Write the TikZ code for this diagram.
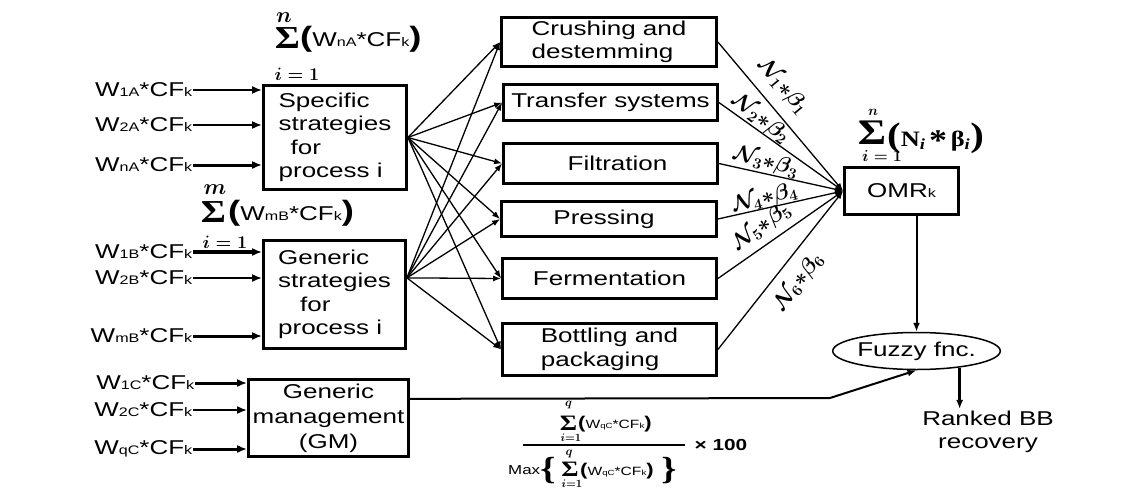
\RequirePackage{fix-cm}
\documentclass[tikz,border=0pt]{standalone}
\usepackage{amsmath,bm}
\usepackage{fontspec}
\setmainfont{Liberation Sans}[FakeStretch=1.3]
\newfontfamily\sr{Liberation Serif}[FakeStretch=1.2]
\usetikzlibrary{arrows.meta,shapes.geometric,calc}
\newcommand\lo[1]{\scalebox{0.62}{#1}}
\newcommand\fsz[2]{\fontsize{#1}{#2}\selectfont}
\newcommand\bp[2]{{\fsz{#1}{#1}\bfseries #2}}
\begin{document}
\begin{tikzpicture}[x=1pt,y=-1pt,
 box/.style={draw, line width=2.8pt, inner sep=0pt, font=\fsz{20}{23.5}},
 inlab/.style={anchor=east, inner sep=0.5pt, font=\fsz{20}{24}},
 inarr/.style={-{Latex[length=10pt,width=8pt]}, line width=2pt},
 thk/.style={line width=3pt},
 fan/.style={-{Latex[length=8pt,width=6pt]}, line width=1.3pt},
 outarr/.style={-{Latex[length=8pt,width=6pt]}, line width=1.3pt},
 nlab/.style={font=\fsz{22}{22}\boldmath, inner sep=0pt},
 sig/.style={inner sep=0pt, font=\sr\bfseries\fsz{32}{32}},
 lim/.style={inner sep=0pt},
 conn/.style={-{Latex[length=9pt,width=7pt]}, line width=2pt},
]
\fill[white] (0,0) rectangle (1142,495);
\useasboundingbox (0,0) rectangle (1142,495);

% strategy boxes
\node[box, minimum width=143pt, minimum height=104pt, align=left] (spec) at (335,137.5) {Specific\\strategies\\\hspace*{12pt}for\\process i};
\node[box, minimum width=142pt, minimum height=108pt, align=left] (gen) at (334.5,294.5) {Generic\\strategies\\\hspace*{22pt}for\\process i};
\node[box, minimum width=160pt, minimum height=77pt, align=center, font=\fsz{20}{25}] (gm) at (328.5,418) {Generic\\management\\(GM)};

% process boxes
\node[box, minimum width=215pt, minimum height=49pt, align=left] (p1) at (609,42) {Crushing and\\destemming};
\node[box, minimum width=214pt, minimum height=36pt] (p2) at (610.5,102.5) {Transfer systems};
\node[box, minimum width=214pt, minimum height=40pt] (p3) at (610.5,163.5) {\hspace*{14pt}Filtration};
\node[box, minimum width=215pt, minimum height=35pt] (p4) at (609,219) {Pressing\hspace*{10pt}};
\node[box, minimum width=214pt, minimum height=40pt] (p5) at (609.5,278.5) {Fermentation};
\node[box, minimum width=214pt, minimum height=52pt, align=left] (p6) at (609.5,349.5) {Bottling and\\packaging};

% right side
\node[box, minimum width=114pt, minimum height=47pt] (omr) at (901.5,191) {OMR\lo{k}};
\node[ellipse, draw, line width=1.5pt, minimum width=146pt, minimum height=37pt, inner sep=0pt, font=\fsz{20}{24}] (fz) at (916.5,351) {Fuzzy fnc.};
\node[align=center, font=\fsz{20}{23}, inner sep=2pt] (rk) at (988,432) {Ranked BB\\recovery};

% input labels
\node[inlab] (w1a) at (193,90) {W\lo{1A}*CF\lo{k}};
\node[inlab] (w2a) at (193,125) {W\lo{2A}*CF\lo{k}};
\node[inlab] (wna) at (193,165) {W\lo{nA}*CF\lo{k}};
\node[inlab] (w1b) at (193,252) {W\lo{1B}*CF\lo{k}};
\node[inlab] (w2b) at (193,278) {W\lo{2B}*CF\lo{k}};
\node[inlab] (wmb) at (193,336) {W\lo{mB}*CF\lo{k}};
\node[inlab] (w1c) at (195,383) {W\lo{1C}*CF\lo{k}};
\node[inlab] (w2c) at (193,410) {W\lo{2C}*CF\lo{k}};
\node[inlab] (wqc) at (193,449) {W\lo{qC}*CF\lo{k}};

\draw[inarr] (w1a.east) -- (w1a.east -| spec.west);
\draw[inarr] (w2a.east) -- (w2a.east -| spec.west);
\draw[inarr,thk] (wna.east) -- (wna.east -| spec.west);
\draw[inarr,line width=3.5pt] (w1b.east) -- (w1b.east -| gen.west);
\draw[inarr] (w2b.east) -- (w2b.east -| gen.west);
\draw[inarr,thk] (wmb.east) -- (wmb.east -| gen.west);
\draw[inarr,thk] (w1c.east) -- (w1c.east -| gm.west);
\draw[inarr] (w2c.east) -- (w2c.east -| gm.west);
\draw[inarr,thk] (wqc.east) -- (wqc.east -| gm.west);

% fan
\coordinate (gs) at ($(gen.north east)!0.35!(gen.south east)$);
\foreach \p in {p1,p2,p3,p4,p5,p6} {
  \draw[fan] (spec.east) -- (\p.west);
  \draw[fan] (gs) -- (\p.west);
  \draw[outarr] (\p.east) -- (omr.west);
}

% line labels
\node[nlab, rotate=-50] (l1) at (783,87) {$\mathcal{N}_{1}{\ast}\beta_{1}$};
\node[nlab, rotate=-38] (l2) at (761,119) {$\mathcal{N}_{2}{\ast}\beta_{2}$};
\node[nlab, rotate=-16] (l3) at (766,162) {$\mathcal{N}_{3}{\ast}\beta_{3}$};
\node[nlab, rotate=14] (l4) at (765,198.5) {$\mathcal{N}_{4}{\ast}\beta_{4}$};
\node[nlab, rotate=36] (l5) at (762,227) {$\mathcal{N}_{5}{\ast}\beta_{5}$};
\node[nlab, rotate=52] (l6) at (799,282) {$\mathcal{N}_{6}{\ast}\beta_{6}$};

% lower connectors
\coordinate (gmo) at ($(gm.north east)!0.26!(gm.south east)$);
\coordinate (bend) at (830,398);
\draw[conn] (gmo) -- (bend) -- (fz.south);
\draw[conn] (omr.south -| fz.north) -- (fz.north);
\draw[conn, line width=2.5pt] (fz.-21) -- (fz.-21 |- rk.north);

% formula A
\node[sig] (sgA) at (287.5,38) {Σ};
\node[lim, font=\fsz{22}{22}\boldmath] (nA) at (284,18) {$n$};
\node[lim, font=\fsz{18}{18}\boldmath] (iA) at (297,74) {$i=1$};
\node[lim, anchor=west, font=\fsz{20}{24}] (tA) at (300,39) {\bp{28}{(}W\lo{nA}*CF\lo{k}\bp{28}{)}};

% formula B
\node[sig] (sgB) at (213.5,212.5) {Σ};
\node[lim, font=\fsz{22}{22}\boldmath] (mB) at (215,190) {$m$};
\node[lim, font=\fsz{18}{18}\boldmath] (iB) at (225,242) {$i=1$};
\node[lim, anchor=west, font=\fsz{20}{24}] (tB) at (228,213) {\bp{28}{(}W\lo{mB}*CF\lo{k}\bp{28}{)}};

% formula C
\node[sig, font=\sr\bfseries\fsz{36}{36}] (sgC) at (872,133) {Σ};
\node[lim, font=\fsz{14}{14}\boldmath] (nC) at (873,112) {$n$};
\node[lim, font=\fsz{16}{16}\boldmath] (iC) at (882,156) {$i=1$};
\node[lim, anchor=west, font=\sr\bfseries\fsz{22}{24}] (tC) at (887,138) {\bp{34}{(}N\textsubscript{\textit{i}}\,\raisebox{-4pt}{\fsz{30}{30}*}\,β\textsubscript{\textit{i}}\bp{34}{)}};

% formula D (fraction)
\node[lim, font=\sr\bfseries\fsz{22}{22}] (sgD1) at (568.5,423) {Σ};
\node[lim, font=\fsz{12}{12}\boldmath] (qD1) at (568.5,405) {$q$};
\node[lim, font=\fsz{11}{11}\boldmath] (iD1) at (571,437.5) {$i{=}1$};
\node[lim, anchor=west, font=\fsz{12}{14}] (tD1) at (578,424) {\bp{17}{(}W\lo{qC}*CF\lo{k}\bp{17}{)}};
\coordinate (fbl) at (523,445);
\coordinate (fbr) at (685,445);
\draw[line width=1.5pt] (fbl) -- (fbr);
\node[lim, anchor=west, font=\fsz{13}{14}] (max) at (508,470) {Max};
\node[lim, font=\sr\bfseries\fsz{32}{32}] (lbr) at (548,471) {\{};
\node[lim, font=\sr\bfseries\fsz{22}{22}] (sgD2) at (570,469) {Σ};
\node[lim, font=\fsz{12}{12}\boldmath] (qD2) at (569,454) {$q$};
\node[lim, font=\fsz{11}{11}\boldmath] (iD2) at (572,484) {$i{=}1$};
\node[lim, anchor=west, font=\fsz{12}{14}] (tD2) at (580,471) {\bp{17}{(}W\lo{qC}*CF\lo{k}\bp{17}{)}};
\node[lim, font=\sr\bfseries\fsz{32}{32}] (rbr) at (669,471) {\}};
\node[lim, font=\bfseries\fsz{16}{16}] (x100) at (721,445) {× 100};
\end{tikzpicture}
\end{document}
